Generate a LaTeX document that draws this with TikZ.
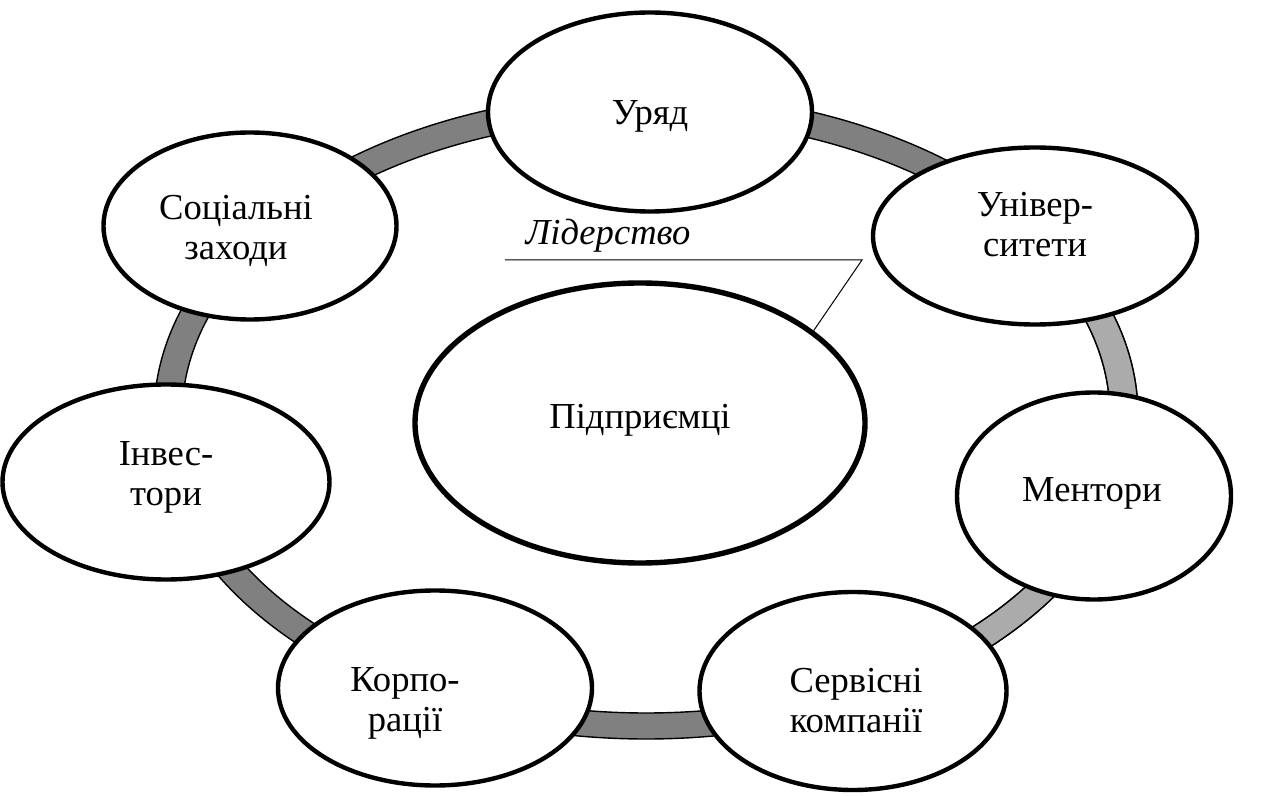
\documentclass[tikz,border=0pt]{standalone}
\usepackage{fontspec}
\setmainfont{Liberation Serif}
\usetikzlibrary{shapes.geometric}
\definecolor{ringdark}{HTML}{808080}
\definecolor{ringlight}{HTML}{ABABAB}
\tikzset{
  ell/.style 2 args={ellipse, draw=black, fill=white, line width=2.2pt, inner sep=0pt,
    minimum width=#1*0.5pt, minimum height=#2*0.5pt},
  center ell/.style={line width=2.7pt},
  lbl/.style={align=center, inner sep=0pt, font=\fontsize{18.3}{20}\selectfont},
  ringline/.style={draw=black, line width=0.7pt},
  leader/.style={draw=black, line width=0.5pt},
}
\begin{document}
\begin{tikzpicture}[x=0.5pt,y=-0.5pt]
\useasboundingbox (0,0) rectangle (1285,796);
% ring
\fill[ringdark, even odd rule] (646,416) ellipse [x radius=492, y radius=323]
  (646,416) ellipse [x radius=464, y radius=297];
\draw[ringline] (646,416) ellipse [x radius=492, y radius=323];
\draw[ringline] (646,416) ellipse [x radius=464, y radius=297];
\begin{scope}
  \clip (930,290) rectangle (1285,700);
  \fill[ringlight, even odd rule] (646,416) ellipse [x radius=492, y radius=323]
    (646,416) ellipse [x radius=464, y radius=297];
  \draw[ringline] (646,416) ellipse [x radius=492, y radius=323];
  \draw[ringline] (646,416) ellipse [x radius=464, y radius=297];
\end{scope}
% outer nodes
\node[ell={324}{199}] (uryad) at (650,112) {};
\node[ell={324}{177}] (univ) at (1035,236) {};
\node[ell={274}{207}] (ment) at (1094,496) {};
\node[ell={307}{198}] (serv) at (853,691) {};
\node[ell={314}{195}] (korp) at (435,688) {};
\node[ell={327}{195}] (inv) at (166,482) {};
\node[ell={293}{187}] (soc) at (250,226) {};
% center
\node[ell={450}{280}, center ell] (pid) at (640,423) {};
% texts
\node[lbl] (uryad-t) at (650,116) {Уряд};
\node[lbl] (univ-t) at (1035,225) {Універ-\\ситети};
\node[lbl] (ment-t) at (1092,493) {Ментори};
\node[lbl] (serv-t) at (856,701) {Сервісні\\компанії};
\node[lbl] (korp-t) at (405,703) {Корпо-\\рації};
\node[lbl] (inv-t) at (166,477) {Інвес-\\тори};
\node[lbl] (soc-t) at (236,231) {Соціальні\\заходи};
\node[lbl] (pid-t) at (640,420) {Підприємці};
% leadership label
\node[lbl, font=\fontsize{18.3}{20}\selectfont\itshape] (lid) at (608,236) {Лідерство};
\coordinate (l1) at (505,260);
\coordinate (l2) at (862,260);
\draw[leader] (l1) -- (l2) -- (pid.28);
\end{tikzpicture}
\end{document}
